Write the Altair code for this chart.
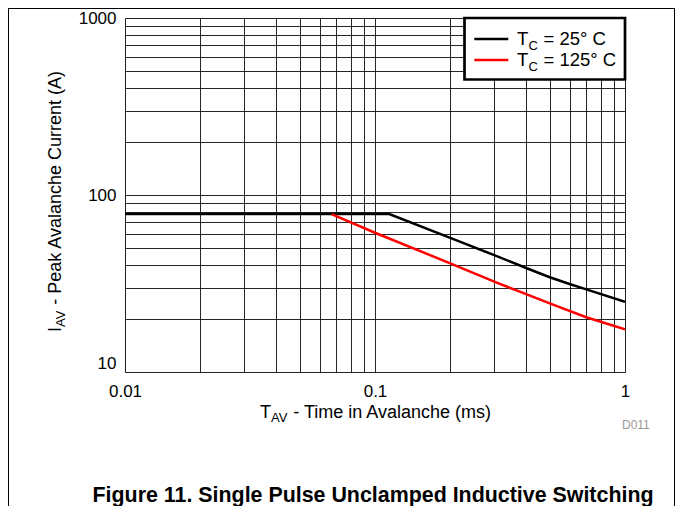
import altair as alt
import pandas as pd

# ---- data ----
t_25 = [0.01, 0.114, 0.2, 0.3, 0.4, 0.5, 0.6, 0.7, 1.0]
i_25 = [78, 78, 57.3, 45.7, 38.8, 34.3, 31.4, 29.3, 24.9]
t_125 = [0.067, 0.1, 0.2, 0.3, 0.4, 0.5, 0.7, 1.0]
i_125 = [78, 61.2, 41.1, 32.4, 27.6, 24.4, 20.4, 17.4]

x_ticks = [0.01, 0.02, 0.03, 0.04, 0.05, 0.06, 0.07, 0.08, 0.09,
           0.1, 0.2, 0.3, 0.4, 0.5, 0.6, 0.7, 0.8, 0.9, 1.0]
y_ticks = [10, 20, 30, 40, 50, 60, 70, 80, 90,
           100, 200, 300, 400, 500, 600, 700, 800, 900, 1000]

FONT = "Liberation Sans"

df = pd.concat([
    pd.DataFrame({"t": t_25, "i": i_25, "s": "25", "o": range(len(t_25))}),
    pd.DataFrame({"t": t_125, "i": i_125, "s": "125", "o": range(len(t_125))}),
])

x_axis = alt.Axis(
    values=x_ticks, grid=True, gridColor="#000", gridWidth=1, gridOpacity=0.85,
    ticks=False, domain=False, title=None, labelFlush=False, labelOverlap=False,
    labelExpr="datum.value == 0.01 ? '0.01' : datum.value == 0.1 ? '0.1' : datum.value == 1 ? '1' : ''",
    labelFont=FONT, labelFontSize=17, labelColor="#000", labelPadding=11,
)
y_axis = alt.Axis(
    values=y_ticks, grid=True, gridColor="#000", gridWidth=1, gridOpacity=0.85,
    ticks=False, domain=False, title=None, labelFlush=False, labelOverlap=False,
    labelExpr="datum.value == 10 ? '10' : datum.value == 100 ? '100' : datum.value == 1000 ? '1000' : ''",
    labelFont=FONT, labelFontSize=17, labelColor="#000", labelPadding=9,
    labelBaseline={"condition": {"test": "datum.value <= 10", "value": "bottom"}, "value": "middle"},
)

lines = alt.Chart(df).mark_line(strokeWidth=2.5, clip=True).encode(
    x=alt.X("t:Q", scale=alt.Scale(type="log", domain=[0.01, 1], nice=False), axis=x_axis),
    y=alt.Y("i:Q", scale=alt.Scale(type="log", domain=[10, 1000], nice=False), axis=y_axis),
    color=alt.Color("s:N", scale=alt.Scale(domain=["25", "125"], range=["#000000", "#ff0000"]), legend=None),
    detail="s:N",
    order="o:Q",
)

one = pd.DataFrame({"a": [0]})


def txt(s, x, y, size=18, angle=0, align="left", baseline="alphabetic", color="#000", weight="normal"):
    return alt.Chart(one).mark_text(
        text=s, font=FONT, fontSize=size, angle=angle, align=align, baseline=baseline,
        color=color, fontWeight=weight,
    ).encode(x=alt.value(x), y=alt.value(y))


def rule(x, y, x2=None, y2=None, color="#000", w=1.0):
    enc = {"x": alt.value(x), "y": alt.value(y)}
    if x2 is not None:
        enc["x2"] = alt.value(x2)
    if y2 is not None:
        enc["y2"] = alt.value(y2)
    return alt.Chart(one).mark_rule(color=color, strokeWidth=w).encode(**enc)


# legend box
legend_box = alt.Chart(one).mark_rect(fill="#fff", stroke="#000", strokeWidth=2.7).encode(
    x=alt.value(339.5), x2=alt.value(500), y=alt.value(0), y2=alt.value(61.5)
)
legend_parts = [
    legend_box,
    rule(349.3, 21, x2=383.3, color="#000", w=2.5),
    rule(349.3, 42, x2=383.3, color="#ff0000", w=2.5),
    txt("T", 392, 27, size=18.5), txt("C", 403.5, 31.5, size=13), txt("= 25° C", 418.5, 27, size=18.5),
    txt("T", 392, 48, size=18.5), txt("C", 403.5, 52.5, size=13), txt("= 125° C", 418.5, 48, size=18.5),
]

# axis titles with subscripts
title_parts = [
    txt("T", 135, 400), txt("AV", 146, 404, size=13), txt("- Time in Avalanche (ms)", 168.3, 400),
    txt("I", -64, 314, angle=270), txt("AV", -60, 309, size=13, angle=270),
    txt("- Peak Avalanche Current (A)", -64, 286.7, angle=270),
    txt("D011", 497, 411, size=12, color="#999"),
    txt("Figure 11. Single Pulse Unclamped Inductive Switching", 248, 483.5, size=21.4,
        align="center", weight="bold"),
]

# figure frame
frame_parts = [
    rule(-116.5, -10, y2=488),
    rule(549.5, -10, y2=488),
    rule(-117, -9.5, x2=550),
]

chart = alt.layer(lines, *legend_parts, *title_parts, *frame_parts).properties(
    width=500, height=354,
    padding={"left": 117, "top": 10, "right": 50, "bottom": 134},
    autosize=alt.AutoSizeParams(type="none"),
).configure_view(stroke="#000", strokeWidth=3).configure(background="#fff")

chart.save("out.html", embed_options={"renderer": "svg", "actions": False})
